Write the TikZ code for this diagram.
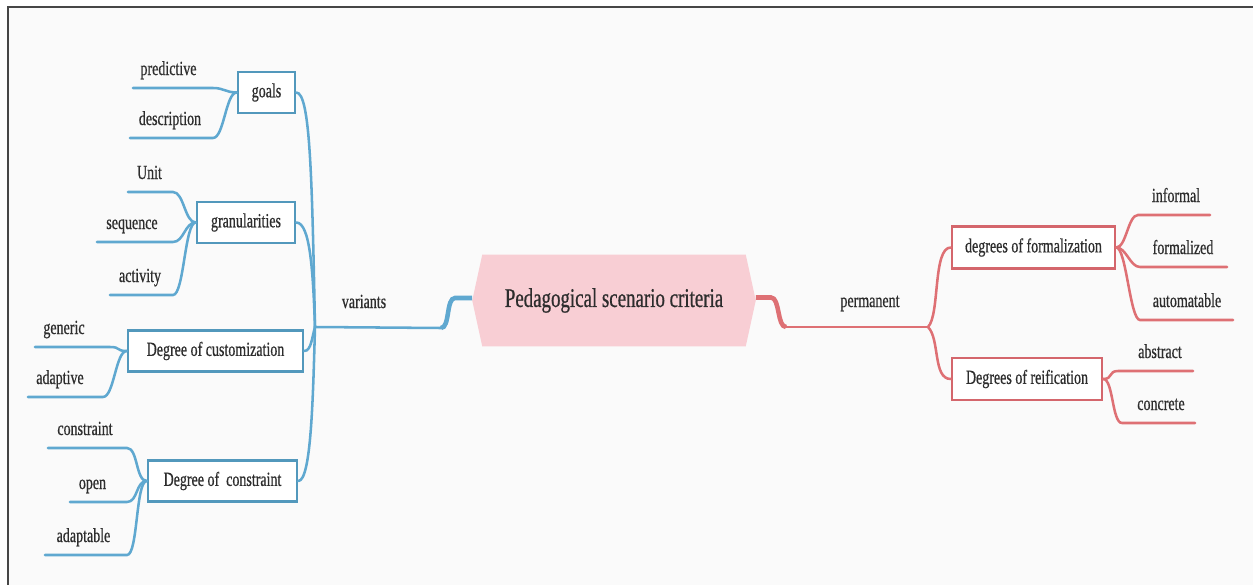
\documentclass[tikz,border=0pt]{standalone}
\usepackage{fontspec}
\newfontfamily\lab[FakeStretch=0.7,FakeBold=0.6]{Liberation Serif}
\usetikzlibrary{calc,backgrounds}
\newdimen\pxu \pxu=0.75pt
\definecolor{ink}{RGB}{45,45,45}
\definecolor{blueln}{RGB}{95,168,208}
\definecolor{bluebx}{RGB}{82,152,188}
\definecolor{redln}{RGB}{222,112,116}
\definecolor{redbx}{RGB}{212,102,108}
\definecolor{hexfill}{RGB}{248,206,212}
\definecolor{paper}{RGB}{250,250,250}
\definecolor{framec}{RGB}{70,70,70}

\begin{document}
\begin{tikzpicture}[x=0.75pt,y=-0.75pt,
  lbl/.style={font=\lab\fontsize{15}{18}\selectfont, text=ink, inner sep=0pt},
  leaf/.style={lbl, anchor=base},
  bbox/.style={lbl, draw=bluebx, line width=1.9pt, fill=white, minimum height=41\pxu},
  rbox/.style={lbl, draw=redbx, line width=1.9pt, fill=white, minimum height=42\pxu},
  bl/.style={draw=blueln, line width=1.9pt, line cap=round},
  rl/.style={draw=redln, line width=1.9pt, line cap=round},
]
\useasboundingbox (0,0) rectangle (1253,585);

% central topic
\node[lbl, font=\lab\fontsize{20.25}{24}\selectfont,
      minimum width=263\pxu, minimum height=91\pxu] (c) at (614,300.5)
      {Pedagogical scenario criteria};

% page, frame and hexagonal plate behind the topic
\begin{scope}[on background layer]
  \fill[white] (0,0) rectangle (1253,585);
  \fill[paper] (8,8) rectangle (1253,585);
  \draw[framec, line width=1.5pt] (7.5,585) -- (7.5,7.5) -- (1253,7.5);
  \fill[hexfill] (c.north west) -- (c.north east) -- ($(c.east)+(10,0)$)
     -- (c.south east) -- (c.south west) -- ($(c.west)+(-10,0)$) -- cycle;
\end{scope}

% main branch labels
\node[leaf] (vL) at (364,308) {variants};
\node[leaf] (pL) at (870,307) {permanent};

% second level boxes
\node[bbox, minimum width=57\pxu]  (goals) at (266.5,92.5) {goals};
\node[bbox, minimum width=98\pxu]  (gran)  at (246,222.5) {granularities};
\node[bbox, minimum width=175\pxu] (cust)  at (215.5,351) {Degree of customization};
\node[bbox, minimum width=149\pxu] (cons)  at (222.5,481) {Degree of~ constraint};
\node[rbox, minimum width=163\pxu] (form)  at (1033.5,247.5) {degrees of formalization};
\node[rbox, minimum width=150\pxu] (reif)  at (1027,379) {Degrees of reification};

% junctions
\coordinate (J) at (315,327);
\coordinate (K) at (928,327);

% blue main connector
\coordinate (ct) at ($(c.west)+(-10,-2.5)$);
\coordinate (bs) at (455,298);
\coordinate (bc) at (441,328);
\draw[bl, line width=3.4pt, line cap=butt] (ct) -- (bs) .. controls (446,298) and (450,328) .. (bc);
\draw[bl] (bc) -- (J);

% red main connector
\coordinate (rt) at ($(c.east)+(10,-3)$);
\coordinate (rs) at (771,297.5);
\coordinate (rc) at (786,327);
\draw[rl, line width=3.4pt, line cap=butt] (rt) -- (rs) .. controls (780,297.5) and (777,327) .. (rc);
\draw[rl] (rc) -- (K);

% trunk to the blue boxes
\draw[bl] (goals.east) .. controls +(14,0) and +(-3,-150) .. (J);
\draw[bl] (gran.east)  .. controls +(14,0) and +(-2,-55) .. (J);
\draw[bl] (cust.east)  .. controls +(7,0)  and +(-3,10) .. (J);
\draw[bl] (cons.east)  .. controls +(13,0) and +(-2,70) .. (J);

% trunk to the red boxes
\draw[rl] (K) .. controls +(12,-12) and +(-18,0) .. (form.west);
\draw[rl] (K) .. controls +(12,12)  and +(-18,0) .. (reif.west);

% blue leaves: name/text x/underline y/outer x/inner x/parent
\foreach \n/\tx/\uy/\xa/\xb/\p in {
  predictive/168.5/88/133/213/goals,
  description/170/138/130/213/goals,
  Unit/149.5/192/128/173/gran,
  sequence/132/242/97/173/gran,
  activity/140/295/110/173/gran,
  generic/64/347/35/110/cust,
  adaptive/60/397/28/103/cust,
  constraint/85/448/48/127/cons,
  open/92.5/502/70/127/cons,
  adaptable/83.5/555/45/127/cons}{
  \node[leaf] (\n) at (\tx,\uy-13) {\n};
  \coordinate (\n-a) at (\xa,\uy);
  \coordinate (\n-b) at (\xb,\uy);
  \draw[bl] (\n-a) -- (\n-b) .. controls +(11,0) and +(-11,0) .. (\p.west);
}

% red leaves
\foreach \n/\tx/\uy/\xa/\xb/\p in {
  informal/1176/215/1210/1138/form,
  formalized/1183/267/1227/1140/form,
  automatable/1187/320/1233/1140/form,
  abstract/1160/371/1193/1118/reif,
  concrete/1161/423/1195/1122/reif}{
  \node[leaf] (\n) at (\tx,\uy-13) {\n};
  \coordinate (\n-a) at (\xa,\uy);
  \coordinate (\n-b) at (\xb,\uy);
  \draw[rl] (\n-a) -- (\n-b) .. controls +(-10,0) and +(10,0) .. (\p.east);
}
\end{tikzpicture}
\end{document}
